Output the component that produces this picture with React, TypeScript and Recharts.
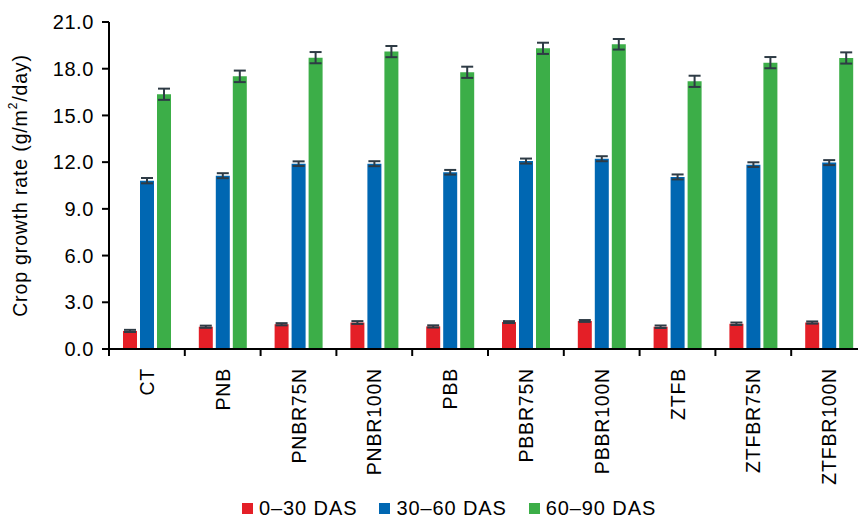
import { Bar, BarChart, ErrorBar, Legend, XAxis, YAxis } from "recharts";

const treatments = [
  "CT",
  "PNB",
  "PNBR75N",
  "PNBR100N",
  "PBB",
  "PBBR75N",
  "PBBR100N",
  "ZTFB",
  "ZTFBR75N",
  "ZTFBR100N",
];
const das0to30 = [1.16, 1.43, 1.59, 1.7, 1.45, 1.73, 1.8, 1.43, 1.62, 1.7];
const das30to60 = [10.81, 11.13, 11.9, 11.9, 11.35, 12.07, 12.22, 11.05, 11.84, 11.97];
const das60to90 = [16.36, 17.51, 18.71, 19.1, 17.77, 19.31, 19.57, 17.19, 18.39, 18.69];
const err0to30 = [0.07, 0.07, 0.07, 0.09, 0.07, 0.06, 0.06, 0.08, 0.08, 0.07];
const err30to60 = [0.17, 0.16, 0.15, 0.16, 0.15, 0.16, 0.16, 0.16, 0.15, 0.16];
const err60to90 = [0.36, 0.37, 0.36, 0.36, 0.36, 0.36, 0.34, 0.36, 0.36, 0.36];
const yTicks = [0, 3, 6, 9, 12, 15, 18, 21];

const series = [
  { key: "a", err: "ea", name: "0–30 DAS", color: "#e41f27" },
  { key: "b", err: "eb", name: "30–60 DAS", color: "#0067b2" },
  { key: "c", err: "ec", name: "60–90 DAS", color: "#3cae48" },
];

const data = treatments.map((t, i) => ({
  name: t,
  a: das0to30[i],
  b: das30to60[i],
  c: das60to90[i],
  ea: err0to30[i],
  eb: err30to60[i],
  ec: err60to90[i],
}));

const FONT = "'Liberation Sans', Arial, Helvetica, sans-serif";
const TICK_SIZE = 7;
const TICK_MARGIN = 12;

function CategoryTick(props: any) {
  const { x, y, payload } = props;
  const edge = x - (payload.offset ?? 0);
  const axisY = y - TICK_SIZE - TICK_MARGIN;
  return (
    <g>
      <line x1={edge} y1={axisY} x2={edge} y2={axisY + TICK_SIZE} stroke="#000" strokeWidth={2} />
      <text
        x={x}
        y={y}
        transform={`rotate(-90, ${x}, ${y})`}
        textAnchor="end"
        dominantBaseline="central"
        fontSize={19.5}
        letterSpacing={0.8}
        fontFamily={FONT}
        fill="#000"
      >
        {payload.value}
      </text>
    </g>
  );
}

function YLabel(props: any) {
  const vb = props.viewBox || {};
  const cx = 20;
  const cy = (vb.y ?? 22) + (vb.height ?? 327) / 2;
  return (
    <text
      x={cx}
      y={cy}
      transform={`rotate(-90, ${cx}, ${cy})`}
      textAnchor="middle"
      dominantBaseline="central"
      fontSize={19.5}
      letterSpacing={0.85}
      fontFamily={FONT}
      fill="#000"
    >
      <tspan>Crop growth rate (g/m</tspan>
      <tspan dy={-7} fontSize={12}>2</tspan>
      <tspan dy={7}>/day)</tspan>
    </text>
  );
}

function LegendContent() {
  return (
    <div
      style={{
        display: "flex",
        alignItems: "center",
        height: 43,
        paddingTop: 25,
        boxSizing: "border-box",
        fontFamily: FONT,
        fontSize: 20,
        letterSpacing: 0.9,
        color: "#000",
        whiteSpace: "nowrap",
      }}
    >
      {series.map((s) => (
        <div key={s.key} style={{ display: "flex", alignItems: "center", marginRight: 22 }}>
          <span style={{ width: 11, height: 11, background: s.color, marginRight: 6 }} />
          <span>{s.name}</span>
        </div>
      ))}
    </div>
  );
}

export default function App() {
  return (
    <div
      style={{
        position: "absolute",
        left: 0,
        top: 0,
        width: 858,
        height: 517,
        overflow: "hidden",
        background: "#fff",
      }}
    >
      <BarChart
        width={880}
        height={517}
        data={data}
        margin={{ top: 22, right: 13, left: 0, bottom: 0 }}
        barSize={14}
        barGap={3}
      >
        <XAxis
          dataKey="name"
          height={125}
          interval={0}
          tickLine={false}
          tickSize={TICK_SIZE}
          tickMargin={TICK_MARGIN}
          axisLine={{ stroke: "#000", strokeWidth: 2 }}
          tick={<CategoryTick />}
        />
        <YAxis
          width={109}
          domain={[0, 21]}
          ticks={yTicks}
          interval={0}
          tickFormatter={(v) => Number(v).toFixed(1)}
          tickSize={TICK_SIZE}
          tickMargin={8}
          axisLine={{ stroke: "#000", strokeWidth: 2 }}
          tickLine={{ stroke: "#000", strokeWidth: 2 }}
          tick={{ fontSize: 20, fill: "#000", fontFamily: FONT, letterSpacing: 0.6 }}
          label={<YLabel />}
        />
        <Legend
          verticalAlign="bottom"
          content={<LegendContent />}
          wrapperStyle={{ left: 242, width: 520, height: 43 }}
        />
        {series.map((s) => (
          <Bar key={s.key} dataKey={s.key} name={s.name} fill={s.color} isAnimationActive={false}>
            <ErrorBar dataKey={s.err} width={6} stroke="#2e3b45" strokeWidth={2} direction="y" />
          </Bar>
        ))}
      </BarChart>
    </div>
  );
}
